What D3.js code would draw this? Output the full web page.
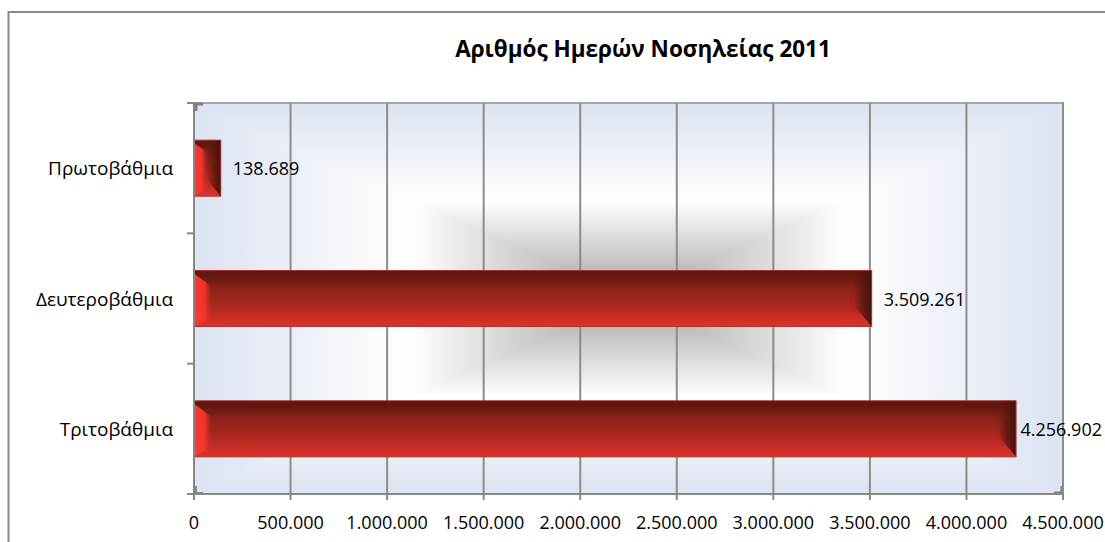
<!DOCTYPE html>
<html><head><meta charset="utf-8">
<script src="https://cdn.jsdelivr.net/npm/d3@7"></script>
<style>html,body{margin:0;padding:0;background:#fff;}svg{display:block;}</style>
</head><body>
<script>
const title = "Αριθμός Ημερών Νοσηλείας 2011";
const categories = ["Πρωτοβάθμια", "Δευτεροβάθμια", "Τριτοβάθμια"];
const values = [138689, 3509261, 4256902];
const valueLabels = ["138.689", "3.509.261", "4.256.902"];
const xTicks = [0, 500000, 1000000, 1500000, 2000000, 2500000, 3000000, 3500000, 4000000, 4500000];
const xTickLabels = ["0", "500.000", "1.000.000", "1.500.000", "2.000.000", "2.500.000", "3.000.000", "3.500.000", "4.000.000", "4.500.000"];

const W = 1105, H = 542;
const font = "'Open Sans', 'Noto Sans', sans-serif";
const svg = d3.select("body").append("svg").attr("width", W).attr("height", H);
const defs = svg.append("defs");

// outer frame
svg.append("rect").attr("x", 8.5).attr("y", 12).attr("width", 1110).attr("height", 540)
  .attr("fill", "#fff").attr("stroke", "#8a8a8a").attr("stroke-width", 2);

const x = d3.scaleLinear().domain([0, 4500000]).range([194, 1063]);
const y = d3.scaleBand().domain(categories).range([103, 494]).paddingInner(0.57).paddingOuter(0.285);
const [x0, x1] = x.range(), [y0, y1] = y.range();
const cx = (x0 + x1) / 2, cy = (y0 + y1) / 2;

// background: rectangular "from center" gradient via 4 triangles
const stops = [[0, "#aaaaaa"], [0.15, "#bdbdbd"], [0.5, "#ffffff"], [1, "#dce3f1"]];
function grad(id, gx1, gy1, gx2, gy2) {
  const g = defs.append("linearGradient").attr("id", id).attr("gradientUnits", "userSpaceOnUse")
    .attr("x1", gx1).attr("y1", gy1).attr("x2", gx2).attr("y2", gy2);
  stops.forEach(s => g.append("stop").attr("offset", s[0]).attr("stop-color", s[1]));
}
grad("gTop", cx, cy, cx, y0);
grad("gBot", cx, cy, cx, y1);
grad("gLeft", cx, cy, x0, cy);
grad("gRight", cx, cy, x1, cy);
const bg = svg.append("g");
const tri = (pts, f) => bg.append("polygon").attr("points", pts.map(p => p.join(",")).join(" ")).attr("fill", f).attr("stroke", f).attr("stroke-width", 0.5);
tri([[x0, y0], [x1, y0], [cx, cy]], "url(#gTop)");
tri([[x0, y1], [x1, y1], [cx, cy]], "url(#gBot)");
tri([[x0, y0], [x0, y1], [cx, cy]], "url(#gLeft)");
tri([[x1, y0], [x1, y1], [cx, cy]], "url(#gRight)");

// wall back edges
svg.append("path").attr("d", `M${x0},${y0}H${x1}V${y1}`).attr("fill", "none").attr("stroke", "#a6a6a6").attr("stroke-width", 2);
svg.append("path").attr("d", `M${x0 + 1},${y0 + 1}h8M${x0 + 2},${y0 + 1}v7`).attr("stroke", "#7f7f7f").attr("stroke-width", 3);
svg.append("path").attr("d", `M${x1 - 1},${y1 - 1}h-8M${x1 - 1},${y1 - 1}v-7`).attr("stroke", "#7f7f7f").attr("stroke-width", 3);
svg.append("path").attr("d", `M${x0 + 1},${y1 - 1}h8M${x0 + 2},${y1 - 1}v-7`).attr("stroke", "#8a8a8a").attr("stroke-width", 2);

// gridlines
svg.append("g").selectAll("line").data(xTicks.slice(1)).join("line")
  .attr("x1", d => x(d)).attr("x2", d => x(d)).attr("y1", y0).attr("y2", y1)
  .attr("stroke", "#8c8c8c").attr("stroke-width", 2);

// bar gradients
const bg1 = defs.append("linearGradient").attr("id", "barV").attr("x1", 0).attr("y1", 0).attr("x2", 0).attr("y2", 1);
[[0, "#5c140f"], [0.12, "#681812"], [0.35, "#8f2418"], [0.55, "#a2261b"], [0.75, "#bd2924"], [0.9, "#d22f26"], [1, "#d6362c"]]
  .forEach(s => bg1.append("stop").attr("offset", s[0]).attr("stop-color", s[1]));
const gl = defs.append("linearGradient").attr("id", "barL").attr("x1", 0).attr("y1", 0).attr("x2", 1).attr("y2", 0);
gl.append("stop").attr("offset", 0).attr("stop-color", "#ff3b30").attr("stop-opacity", 1);
gl.append("stop").attr("offset", 0.6).attr("stop-color", "#f5352b").attr("stop-opacity", 0.9);
gl.append("stop").attr("offset", 1).attr("stop-color", "#c82a22").attr("stop-opacity", 0);
const gr = defs.append("linearGradient").attr("id", "barR").attr("x1", 0).attr("y1", 0).attr("x2", 1).attr("y2", 0);
gr.append("stop").attr("offset", 0).attr("stop-color", "#5a160f").attr("stop-opacity", 0);
gr.append("stop").attr("offset", 0.45).attr("stop-color", "#5a160f").attr("stop-opacity", 0.75);
gr.append("stop").attr("offset", 1).attr("stop-color", "#45110b").attr("stop-opacity", 1);

const data = categories.map((c, i) => ({ c, v: values[i], label: valueLabels[i] }));
const bars = svg.append("g").selectAll("g").data(data).join("g");
bars.each(function (d) {
  const g = d3.select(this);
  const bx0 = x(0), bx1 = x(d.v), by0 = y(d.c), by1 = y(d.c) + y.bandwidth();
  const b = Math.min(18, (bx1 - bx0) / 2);
  g.append("rect").attr("x", bx0).attr("y", by0).attr("width", bx1 - bx0).attr("height", by1 - by0)
    .attr("fill", "url(#barV)");
  g.append("polygon").attr("points", [[bx0, by0 + 3], [bx0 + b, by0 + b * 0.9], [bx0 + b, by1 - b * 0.5], [bx0, by1]].map(p => p.join(",")).join(" "))
    .attr("fill", "url(#barL)");
  g.append("polygon").attr("points", [[bx1, by0], [bx1, by1], [bx1 - b, by1 - b * 1.2], [bx1 - b, by0]].map(p => p.join(",")).join(" "))
    .attr("fill", "url(#barR)");
  g.append("rect").attr("x", bx0).attr("y", by0).attr("width", bx1 - bx0).attr("height", by1 - by0)
    .attr("fill", "none").attr("stroke", "#a8362e").attr("stroke-width", 1);
});

// axes
const axis = svg.append("g").attr("stroke", "#868686").attr("stroke-width", 2).attr("fill", "none");
axis.append("line").attr("x1", x0).attr("x2", x0).attr("y1", y0).attr("y2", y1 + 6);
axis.append("line").attr("x1", x0 - 7).attr("x2", x1).attr("y1", y1).attr("y2", y1);
axis.selectAll(".xt").data(xTicks).join("line").attr("class", "xt")
  .attr("x1", d => x(d)).attr("x2", d => x(d)).attr("y1", y1).attr("y2", y1 + 6);
const yTickPos = d3.range(categories.length + 1).map(i => y0 + i * (y1 - y0) / categories.length);
axis.selectAll(".yt").data(yTickPos).join("line").attr("class", "yt")
  .attr("x1", x0 - 7).attr("x2", x0).attr("y1", d => d).attr("y2", d => d);

// tick labels
svg.append("g").selectAll("text").data(xTicks).join("text")
  .attr("x", d => x(d)).attr("y", 522).attr("text-anchor", "middle").attr("dominant-baseline", "central")
  .attr("font-family", font).attr("font-size", 18).attr("fill", "#000")
  .text((d, i) => xTickLabels[i]);
svg.append("g").selectAll("text").data(categories).join("text")
  .attr("x", 173).attr("y", d => y(d) + y.bandwidth() / 2).attr("text-anchor", "end").attr("dominant-baseline", "central")
  .attr("font-family", font).attr("font-size", 19).attr("fill", "#000").text(d => d);

// value labels
svg.append("g").selectAll("text").data(data).join("text")
  .attr("y", d => y(d.c) + y.bandwidth() / 2).attr("dominant-baseline", "central")
  .attr("font-family", font).attr("font-size", 18).attr("fill", "#000").text(d => d.label)
  .each(function (d) {
    const w = this.getComputedTextLength();
    d3.select(this).attr("x", Math.min(x(d.v) + 12, W - 3 - w));
  });

// title
svg.append("text").attr("x", 643).attr("y", 48).attr("text-anchor", "middle").attr("dominant-baseline", "central")
  .attr("font-family", font).attr("font-size", 22.5).attr("font-weight", "bold").attr("fill", "#000").text(title);
</script>
</body></html>
